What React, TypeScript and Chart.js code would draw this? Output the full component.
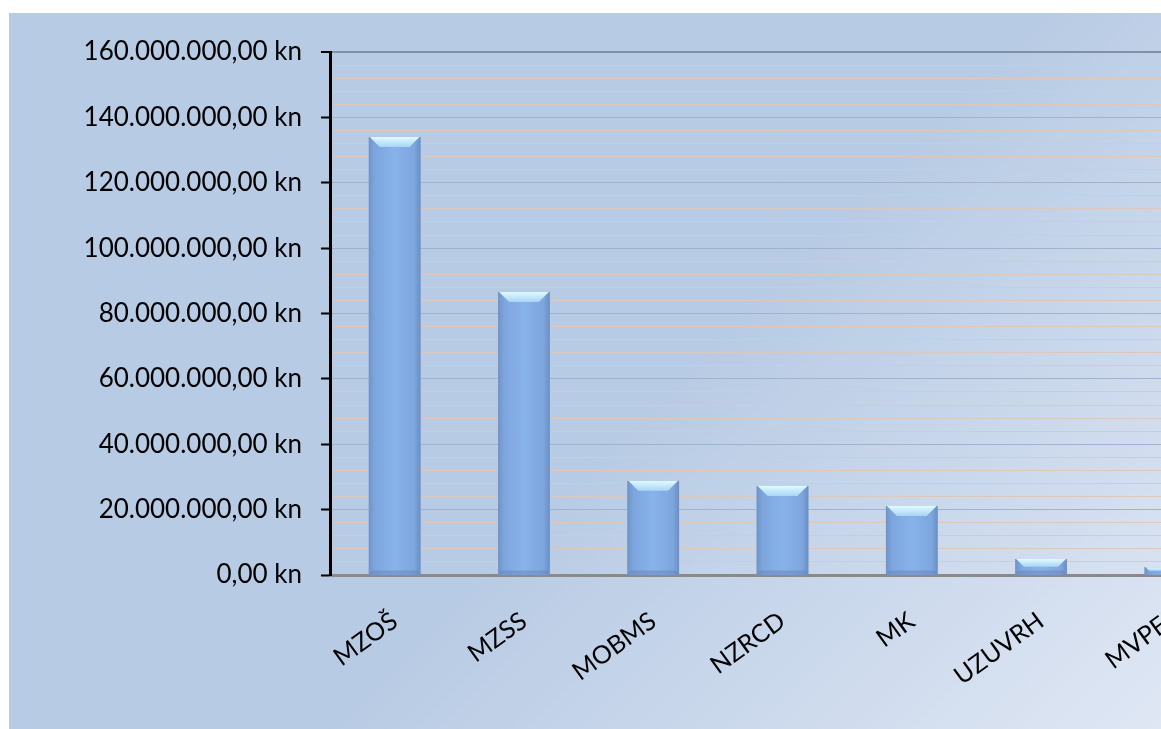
import React, { useEffect, useRef } from "react";
import { Chart, registerables } from "chart.js";

Chart.register(...registerables);

const categories = ["MZOŠ", "MZSS", "MOBMS", "NZRCD", "MK", "UZUVRH", "MVPEI"];
const values = [134000000, 86600000, 28800000, 27200000, 21100000, 4900000, 2400000];
const yMin = 0;
const yMax = 160000000;
const yMajorStep = 20000000;
const yMinorStep = 4000000;

const formatKn = (v: number) => {
  const int = Math.round(v).toString().replace(/\B(?=(\d{3})+(?!\d))/g, ".");
  return `${int},00 kn`;
};

const bevelPlugin = {
  id: "bevel",
  afterDatasetsDraw(chart: any) {
    const ctx = chart.ctx;
    const meta = chart.getDatasetMeta(0);
    meta.data.forEach((bar: any) => {
      const p = bar.getProps(["x", "y", "base", "width"], true);
      const l = p.x - p.width / 2;
      const r = p.x + p.width / 2;
      const t = p.y;
      const b = p.base;
      const h = b - t;
      ctx.save();
      const g = ctx.createLinearGradient(l, 0, r, 0);
      g.addColorStop(0, "#6f93c6");
      g.addColorStop(0.12, "#7ea6de");
      g.addColorStop(0.5, "#88b2ea");
      g.addColorStop(0.88, "#7ea6de");
      g.addColorStop(1, "#6a8ec2");
      ctx.fillStyle = g;
      ctx.fillRect(l, t, r - l, h);
      const bev = Math.min(10, h / 2);
      const tg = ctx.createLinearGradient(0, t, 0, t + bev);
      tg.addColorStop(0, "#e0fbff");
      tg.addColorStop(1, "#a9d4f6");
      ctx.fillStyle = tg;
      ctx.beginPath();
      ctx.moveTo(l + 1, t);
      ctx.lineTo(r - 1, t);
      ctx.lineTo(r - 1 - bev, t + bev);
      ctx.lineTo(l + 1 + bev, t + bev);
      ctx.closePath();
      ctx.fill();
      if (h > 14) {
        ctx.fillStyle = "rgba(95,130,185,0.45)";
        ctx.beginPath();
        ctx.moveTo(l, b);
        ctx.lineTo(r, b);
        ctx.lineTo(r - 3, b - 4);
        ctx.lineTo(l + 3, b - 4);
        ctx.closePath();
        ctx.fill();
      }
      ctx.restore();
    });
  },
};

export default function App() {
  const ref = useRef<HTMLCanvasElement | null>(null);
  useEffect(() => {
    if (!ref.current) return;
    const chart = new Chart(ref.current, {
      type: "bar",
      data: {
        labels: categories,
        datasets: [
          {
            data: values,
            backgroundColor: "#85aee6",
            barPercentage: 0.8,
            categoryPercentage: 0.5,
          },
        ],
      },
      options: {
        responsive: false,
        animation: false,
        layout: { padding: { top: 39, left: 0, right: 0, bottom: 0 } },
        plugins: { legend: { display: false }, tooltip: { enabled: false } },
        scales: {
          x: {
            grid: { display: false },
            border: { display: true, color: "#8a8a8a", width: 3 },
            ticks: {
              color: "#000",
              font: { family: "Lato", size: 25 },
              minRotation: 36,
              maxRotation: 36,
              padding: 23,
              autoSkip: false,
            },
            afterFit: (s: any) => {
              s.height = 154;
            },
          },
          y: {
            min: yMin,
            max: yMax,
            afterBuildTicks: (s: any) => {
              const t: any[] = [];
              for (let v = yMin; v <= yMax; v += yMinorStep) t.push({ value: v });
              s.ticks = t;
            },
            ticks: {
              autoSkip: false,
              color: "#000",
              font: { family: "Lato", size: 26 },
              padding: 19,
              callback: (v: any) => (Number(v) % yMajorStep === 0 ? formatKn(Number(v)) : ""),
            },
            grid: {
              drawTicks: true,
              tickLength: 9,
              lineWidth: (c: any) => (c.tick && c.tick.value === yMax ? 2 : 1),
              color: (c: any) => {
                const v = c.tick ? c.tick.value : 0;
                if (v === yMax) return "#7f90a8";
                if (v === 0) return "rgba(0,0,0,0)";
                if (v % yMajorStep === 0) return "#9fb3d0";
                return "#dcc8bc";
              },
              tickColor: (c: any) => {
                const v = c.tick ? c.tick.value : 0;
                return v % yMajorStep === 0 ? "#000" : "rgba(0,0,0,0)";
              },
              tickWidth: 2,
            },
            border: { display: true, color: "#000", width: 3 },
            afterFit: (s: any) => {
              s.width = 321;
            },
          },
        },
      },
      plugins: [bevelPlugin],
    });
    return () => chart.destroy();
  }, []);
  return (
    <div
      style={{
        position: "fixed",
        left: 9,
        top: 13,
        right: 0,
        bottom: 0,
        overflow: "hidden",
        background: "linear-gradient(135deg, #b7cbe4 0%, #b8cbe4 55%, #dfe7f4 100%)",
      }}
    >
      <canvas ref={ref} width={1226} height={716} style={{ display: "block" }} />
    </div>
  );
}
